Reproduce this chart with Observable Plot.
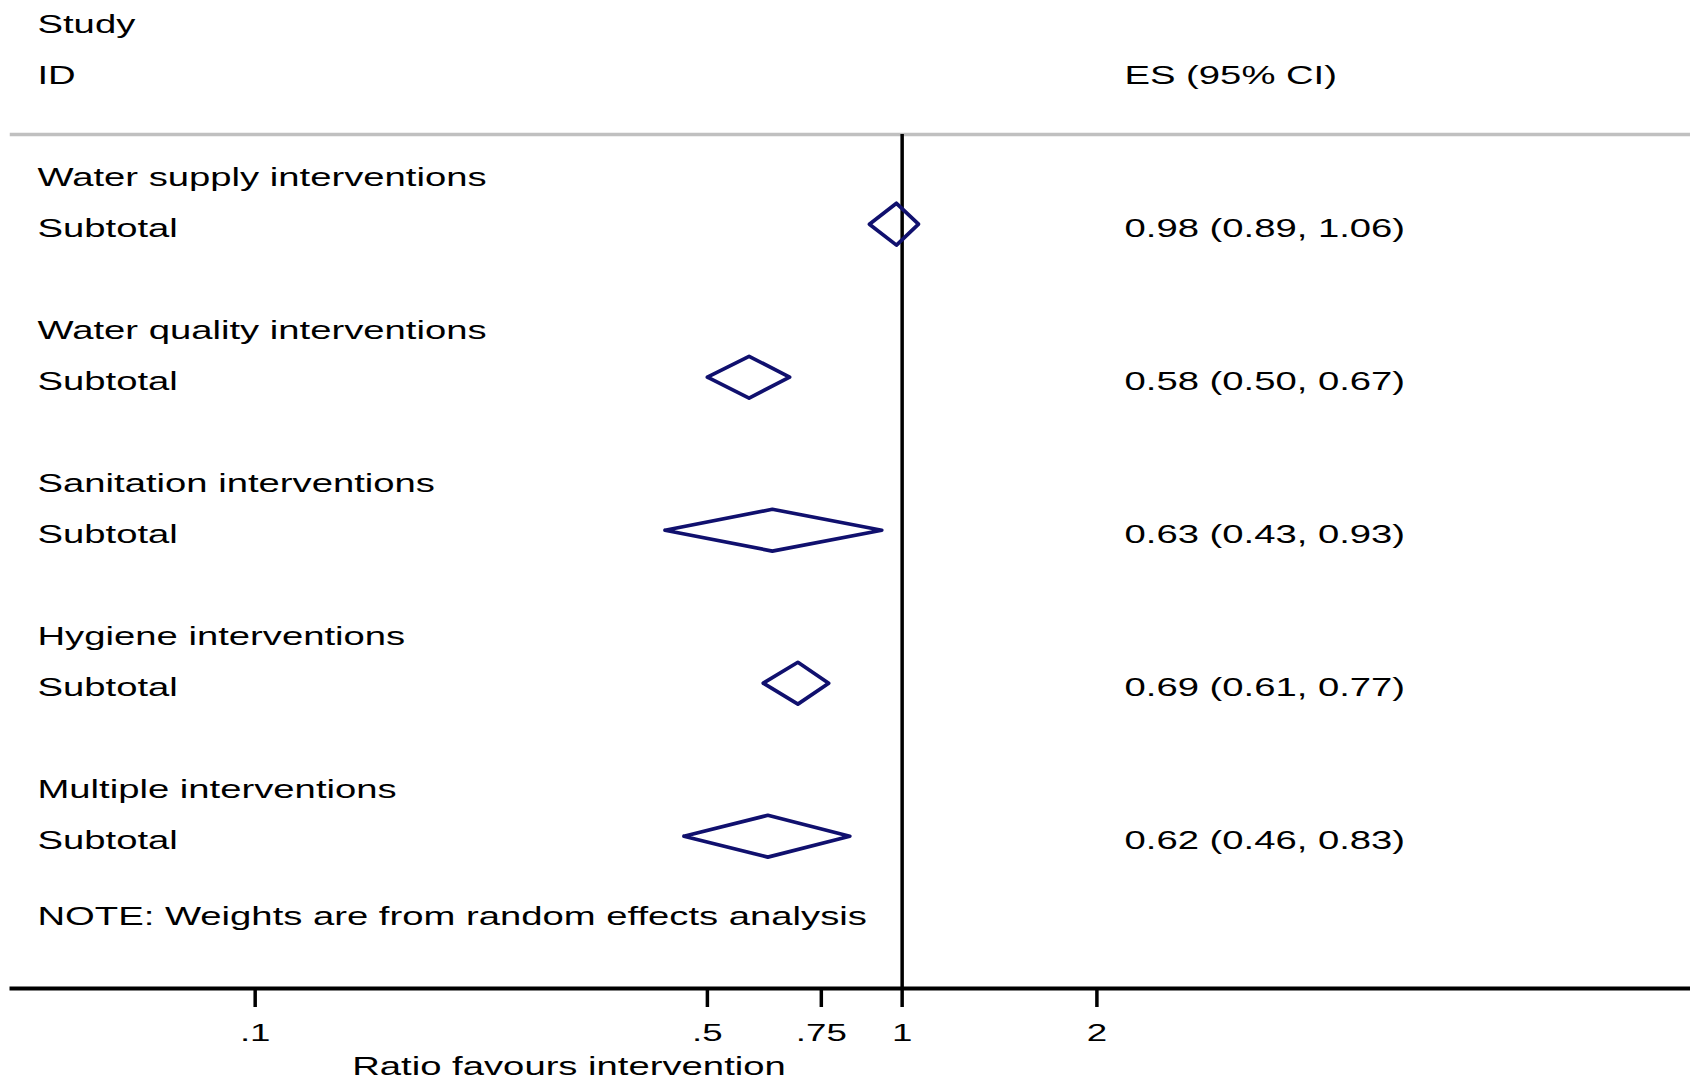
<!DOCTYPE html>
<html>
<head>
<meta charset="utf-8">
<script src="https://cdn.jsdelivr.net/npm/d3@7"></script>
<script src="https://cdn.jsdelivr.net/npm/@observablehq/plot@0.6"></script>
<style>
html, body { margin: 0; padding: 0; background: #fff; }
</style>
</head>
<body>
<div id="chart"></div>
<script>
// ---- data ----
const groups = [
  "Water supply interventions",
  "Water quality interventions",
  "Sanitation interventions",
  "Hygiene interventions",
  "Multiple interventions"
];
const subtotalLabel = "Subtotal";
const es = [0.98, 0.58, 0.63, 0.69, 0.62];
const lo = [0.89, 0.50, 0.43, 0.61, 0.46];
const hi = [1.06, 0.67, 0.93, 0.77, 0.83];
const headerLeft = ["Study", "ID"];
const headerRight = "ES (95% CI)";
const noteText = "NOTE: Weights are from random effects analysis";
const tickValues = [0.1, 0.5, 0.75, 1, 2];
const tickLabels = [".1", ".5", ".75", "1", "2"];
const xTitle = "Ratio favours intervention";

// ---- derived tables ----
const f2 = d3.format(".2f");
const leftRows = [
  {label: headerLeft[0], row: -3},
  {label: headerLeft[1], row: -2},
  ...groups.flatMap((g, i) => [
    {label: g, row: 3 * i},
    {label: subtotalLabel, row: 3 * i + 1}
  ]),
  {label: noteText, row: 14.5}
];
const rightRows = [
  {label: headerRight, row: -2},
  ...groups.map((g, i) => ({label: `${f2(es[i])} (${f2(lo[i])}, ${f2(hi[i])})`, row: 3 * i + 1}))
];
const ticks = tickValues.map((v, i) => ({v, label: tickLabels[i]}));
const HALF = 0.41; // diamond half-height in row units
const diamonds = groups.flatMap((g, i) => {
  const r = 3 * i + 1;
  return [
    {g, x: lo[i], y: r},
    {g, x: es[i], y: r - HALF},
    {g, x: hi[i], y: r},
    {g, x: es[i], y: r + HALF},
    {g, x: lo[i], y: r}
  ];
});

const FONT = "'Liberation Sans', Arial, Helvetica, sans-serif";

const svg = Plot.plot({
  width: 1690,
  height: 1079,
  marginLeft: 11,
  marginRight: 0,
  marginTop: 134,
  marginBottom: 91,
  style: {fontFamily: FONT, fontSize: "25px", background: "#fff", color: "#000", overflow: "visible"},
  x: {type: "log", domain: [0.04201, 16.54]},
  y: {domain: [0, 13], range: [172.7, 835.7], axis: null},
  marks: [
    Plot.frame({anchor: "top", stroke: "#c0c0c0", strokeWidth: 3.5}),
    Plot.ruleX([1], {stroke: "#000", strokeWidth: 3.5}),
    Plot.frame({anchor: "bottom", stroke: "#000", strokeWidth: 4}),
    Plot.axisX({
      ticks: tickValues,
      tickFormat: () => "",
      tickSize: 19,
      strokeWidth: 3.5,
      stroke: "#000",
      label: null
    }),
    Plot.text(ticks, {x: "v", text: "label", frameAnchor: "bottom", textAnchor: "middle", lineAnchor: "middle", dy: 44.5, fontSize: 24, fill: "#000"}),
    Plot.line(diamonds, {x: "x", y: "y", z: "g", stroke: "#10106e", strokeWidth: 3.7}),
    Plot.text(leftRows, {y: "row", text: "label", frameAnchor: "left", textAnchor: "start", lineAnchor: "middle", dx: 26, dy: 4.5, fill: "#000"}),
    Plot.text(rightRows, {y: "row", text: "label", frameAnchor: "left", textAnchor: "start", lineAnchor: "middle", dx: 1113, dy: 4.5, fill: "#000"}),
    Plot.text([xTitle], {frameAnchor: "bottom", textAnchor: "middle", lineAnchor: "middle", dx: 568.5 - 850.5, dy: 78, fill: "#000"})
  ]
});

// widen glyphs horizontally to match the stretched lettering of the original
d3.select(svg).selectAll("text").each(function () {
  const t = this.getAttribute("transform") || "";
  this.setAttribute("transform", t + " scale(1.53,1)");
});

document.getElementById("chart").appendChild(svg);
</script>
</body>
</html>
